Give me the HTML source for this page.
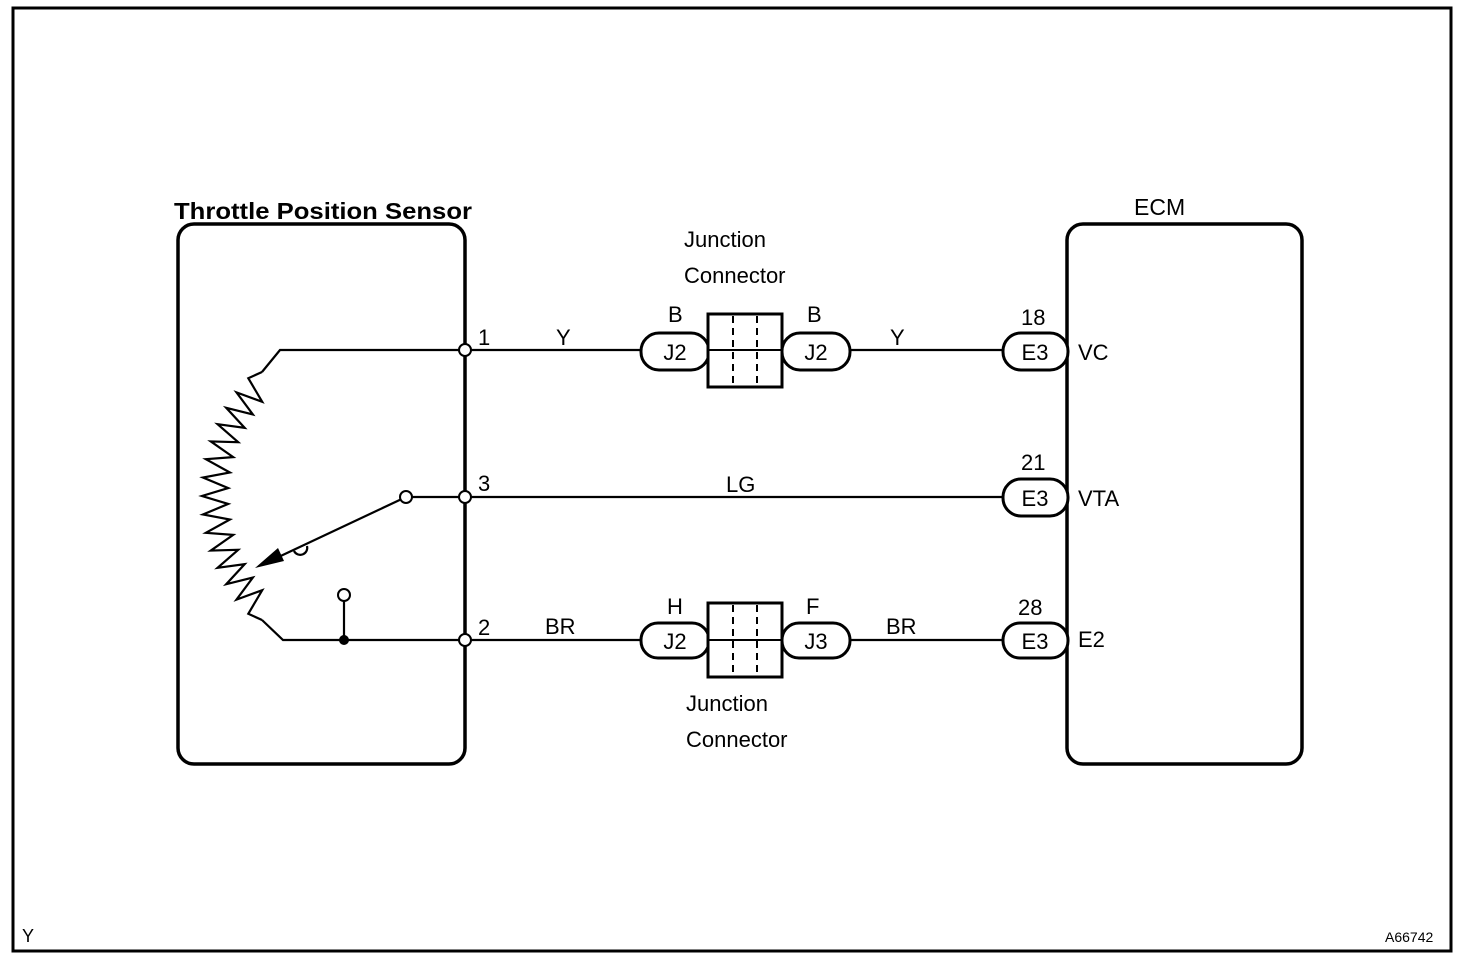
<!DOCTYPE html>
<html><head><meta charset="utf-8"><style>
html,body{margin:0;padding:0;background:#fff;}
svg{display:block;}
text{font-family:"Liberation Sans",sans-serif;fill:#000;}
</style></head><body>
<svg width="1472" height="960" viewBox="0 0 1472 960" xmlns="http://www.w3.org/2000/svg">
<rect x="13" y="8" width="1438" height="943" fill="none" stroke="#000" stroke-width="3"/>
<rect x="178" y="224" width="287" height="540" rx="16" fill="none" stroke="#000" stroke-width="3.5"/>
<rect x="1067" y="224" width="235" height="540" rx="16" fill="none" stroke="#000" stroke-width="3.5"/>
<text x="174" y="219" font-size="23" font-weight="bold" textLength="298" lengthAdjust="spacingAndGlyphs">Throttle Position Sensor</text>
<text x="1134" y="215" font-size="23">ECM</text>
<g stroke="#000" stroke-width="2.2" fill="none">
<polyline points="262,372 280,350 641,350"/>
<line x1="850" y1="350" x2="1003" y2="350"/>
<line x1="406" y1="497" x2="1003" y2="497"/>
<polyline points="262,620 283,640 641,640"/>
<line x1="850" y1="640" x2="1003" y2="640"/>
<line x1="344" y1="596" x2="344" y2="640"/>
<line x1="406" y1="497" x2="270" y2="561"/>
<path d="M294,551 a7,7 0 0 0 13,-5"/>
<polyline id="zz" points=""/>
</g>
<polygon points="255,568 278,548 284,561" fill="#000"/>
<circle cx="344" cy="640" r="5" fill="#000"/>
<g fill="#fff" stroke="#000" stroke-width="2">
<circle cx="465" cy="350" r="6"/>
<circle cx="465" cy="497" r="6"/>
<circle cx="465" cy="640" r="6"/>
<circle cx="406" cy="497" r="6"/>
<circle cx="344" cy="595" r="6"/>
</g>
<g font-size="22">
<text x="478" y="345">1</text>
<text x="478" y="491">3</text>
<text x="478" y="635">2</text>
<text x="556" y="345">Y</text>
<text x="890" y="345">Y</text>
<text x="726" y="492">LG</text>
<text x="545" y="634">BR</text>
<text x="886" y="634">BR</text>
<text x="684" y="247">Junction</text>
<text x="684" y="283">Connector</text>
<text x="686" y="711">Junction</text>
<text x="686" y="747">Connector</text>
<text x="668" y="322">B</text>
<text x="807" y="322">B</text>
<text x="667" y="614">H</text>
<text x="806" y="614">F</text>
<text x="1021" y="325">18</text>
<text x="1021" y="470">21</text>
<text x="1018" y="615">28</text>
<text x="1078" y="360">VC</text>
<text x="1078" y="506">VTA</text>
<text x="1078" y="647">E2</text>
</g>
<g fill="#fff" stroke="#000" stroke-width="3">
<rect x="641" y="333" width="68" height="37" rx="18"/>
<rect x="782" y="333" width="68" height="37" rx="18"/>
<rect x="641" y="623" width="68" height="35" rx="17"/>
<rect x="782" y="623" width="68" height="35" rx="17"/>
<rect x="1003" y="333" width="65" height="37" rx="18"/>
<rect x="1003" y="479" width="65" height="37" rx="18"/>
<rect x="1003" y="623" width="65" height="35" rx="17"/>
</g>
<g stroke="#000" fill="#fff">
<rect x="708" y="314" width="74" height="73" stroke-width="3"/>
<rect x="708" y="603" width="74" height="74" stroke-width="3"/>
</g>
<g stroke="#000" stroke-width="2" stroke-dasharray="7,5">
<line x1="733" y1="316" x2="733" y2="386"/><line x1="757" y1="316" x2="757" y2="386"/>
<line x1="733" y1="605" x2="733" y2="676"/><line x1="757" y1="605" x2="757" y2="676"/>
</g>
<g stroke="#000" stroke-width="2">
<line x1="709" y1="350" x2="782" y2="350"/>
<line x1="709" y1="640" x2="782" y2="640"/>
</g>
<g font-size="22" text-anchor="middle">
<text x="675" y="360">J2</text>
<text x="816" y="360">J2</text>
<text x="675" y="649">J2</text>
<text x="816" y="649">J3</text>
<text x="1035" y="360">E3</text>
<text x="1035" y="506">E3</text>
<text x="1035" y="649">E3</text>
</g>
<text x="22" y="942" font-size="18">Y</text>
<text x="1385" y="942" font-size="14">A66742</text>
</svg>
<script>
(function(){
var cx=375,cy=496,pts=[];
var a0=226,a1=134,n=30;
pts.push("262,372");
for(var i=1;i<n;i++){
 var a=(a0+(a1-a0)*i/n)*Math.PI/180;
 var r=160+(i%2?13:-13);
 pts.push((cx+r*Math.cos(a)).toFixed(1)+","+(cy+r*Math.sin(a)).toFixed(1));
}
pts.push("262,620");
document.getElementById("zz").setAttribute("points",pts.join(" "));
})();
</script>
</body></html>
